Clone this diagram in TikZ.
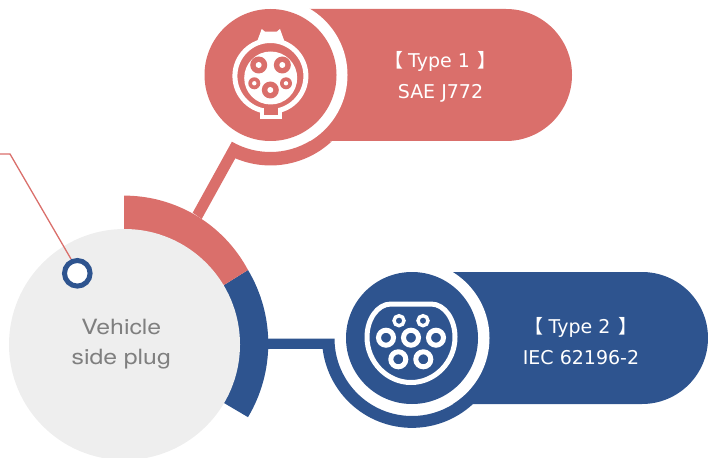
\documentclass[tikz,border=0pt]{standalone}
\usepackage{fontspec}
\setmainfont{DejaVu Sans}
\newfontfamily\cjkfont{Noto Sans CJK JP}
\newfontfamily\wide{TeX Gyre Heros}
\definecolor{salmon}{HTML}{DA6F6B}
\definecolor{navy}{HTML}{2E548F}
\definecolor{lgrey}{HTML}{EEEEEE}
\definecolor{tgrey}{HTML}{7F7F7F}
\tikzset{
  lab/.style={text=white,font=\fontsize{19}{31}\selectfont,align=center,inner sep=0pt},
  centerlab/.style={text=tgrey,font=\wide\fontsize{21}{30}\selectfont,align=center,inner sep=0pt,xscale=1.18},
  pinB/.style={draw=white,fill=navy}
}
\newcommand{\lb}{{\cjkfont【}\hspace{5pt}}
\newcommand{\rb}{\hspace{8pt}{\cjkfont 】}}
\begin{document}
\begin{tikzpicture}[x=1pt,y=-1pt]
\useasboundingbox (0,0) rectangle (708,457);
% centre ring
\fill[navy] (248,270) arc[start angle=-30.8,end angle=30.8,radius=143.7] -- (224,403) -- (224,285) -- cycle;
\fill[salmon] (124,195.6) arc[start angle=-90,end angle=-28.06,radius=140.5] -- (224,285) -- (124,229) -- cycle;
\node[circle,fill=lgrey,minimum size=231pt,inner sep=0pt] (hub) at (124.5,344.5) {};
\node[centerlab] (hubtext) at (121.2,344.5) {Vehicle\\side plug};
% lead line
\coordinate (l0) at (0,154);
\coordinate (l1) at (10,154);
\node[circle,draw=navy,line width=5pt,fill=white,minimum size=25.6pt,inner sep=0pt] (dot) at (77.3,273.3) {};
\draw[salmon,line width=1.3pt] (l0) -- (l1) -- (71,259);
% type 1
\fill[salmon] (300,9) -- (506,9) arc[start angle=-90,end angle=90,radius=66] -- (300,141) -- cycle;
\node[circle,fill=white,minimum size=154pt,inner sep=0pt] (w1) at (270.5,75) {};
\fill[salmon] (231.9,141.7) -- (192.7,212.7) -- (201.7,219) -- (235.3,158.3)
  arc[start angle=113,end angle=47,radius=90] -- (310,141)
  arc[start angle=59,end angle=120,radius=77] -- cycle;
\node[circle,fill=salmon,minimum size=132pt,inner sep=0pt] (c1) at (270.5,75) {};
% type 1 icon
\fill[white] (257.3,41) -- (261.7,29) -- (265,31.7) -- (276.7,31.7) -- (280,29) -- (284.3,41) -- cycle;
\fill[white] (260,108) rectangle (282.3,119);
\draw[white,line width=5pt] (270.4,76) circle[radius=35.5];
\fill[salmon] (264.3,104) rectangle (278,115);
\fill[white] (270.7,78) circle[radius=26.5];
\fill[salmon] (258.7,65) circle[radius=8.5] (282.3,65) circle[radius=8.5] (270.3,90) circle[radius=8.5]
  (254.3,83.3) circle[radius=6] (286,83.3) circle[radius=6];
\fill[white] (258.7,65) circle[radius=3] (282.3,65) circle[radius=3] (270.3,90) circle[radius=3]
  (254.3,83.3) circle[radius=2.2] (286,83.3) circle[radius=2.2];
\node[lab] (t1) at (440.5,77) {\lb Type 1\rb\\SAE J772};
% type 2
\fill[navy] (450,272) -- (642,272) arc[start angle=-90,end angle=90,radius=66] -- (450,404) -- cycle;
\node[circle,fill=white,minimum size=155pt,inner sep=0pt] (w2) at (412,338) {};
\fill[navy] (268,338.5) -- (334.5,338.5) arc[start angle=180,end angle=58,radius=77.5] -- (473,404)
 arc[start angle=47.3,end angle=173,radius=90] -- (268,349) -- cycle;
\node[circle,fill=navy,minimum size=132pt,inner sep=0pt] (c2) at (412,338) {};
% type 2 icon
\draw[white,line width=5pt] (391,304) -- (431,304) .. controls (445,304) and (455,320) .. (455,337)
  .. controls (455,362) and (435,382.5) .. (411,382.5) .. controls (387,382.5) and (367,362) .. (367,337)
  .. controls (367,320) and (377,304) .. (391,304) -- cycle;
\foreach \p in {(399,320.7),(423,320.7)} \draw[pinB,line width=3.4pt] \p circle[radius=5];
\foreach \p in {(386,337.7),(411,337.7),(436,337.7),(398.3,359.3),(423.3,359.3)} \draw[pinB,line width=5pt] \p circle[radius=7.5];
\node[lab] (t2) at (581,341) {\lb Type 2\rb\\IEC 62196-2};
\end{tikzpicture}
\end{document}
